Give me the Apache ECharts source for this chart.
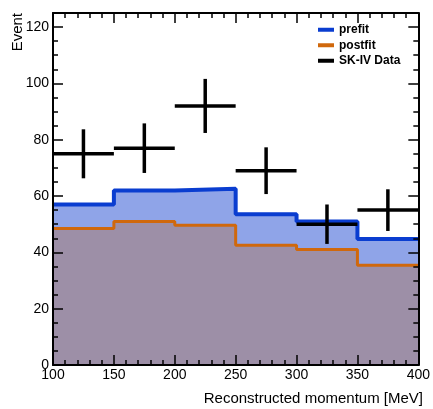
<!DOCTYPE html>
<html>
<head>
<meta charset="utf-8">
<script src="https://cdn.jsdelivr.net/npm/echarts@6/dist/echarts.min.js"></script>
<style>
  html, body { margin: 0; padding: 0; background: #fff; }
  #chart { width: 433px; height: 409px; }
</style>
</head>
<body>
<div id="chart"></div>
<script>
// Bin edges of the reconstructed momentum histogram [MeV]
var binEdges = [100, 150, 200, 250, 300, 350, 400];
// Expected events per bin before and after the fit
var prefit  = [57.0, 62.0, 62.6, 53.5, 51.0, 44.7];
var postfit = [48.5, 51.0, 49.6, 42.5, 41.0, 35.4];
// Observed events and their statistical errors
var dataCounts = [75, 77, 92, 69, 50, 55];
var dataErrors = [8.7, 8.8, 9.6, 8.3, 7.0, 7.4];
// Axis settings
var xTicks = { min: 100, max: 400, step: 50, minorSplit: 5 };
var yTicks = { min: 0, max: 125, step: 20, minorSplit: 4 };

var FONT = '"Liberation Sans", Arial, Helvetica, sans-serif';

// Step outline: each bin value starts at its left edge, last value repeated at the right edge
function histSteps(values) {
  var pts = [];
  for (var i = 0; i < values.length; i++) pts.push([binEdges[i], values[i]]);
  pts.push([binEdges[values.length], values[values.length - 1]]);
  return pts;
}

var dataPoints = dataCounts.map(function (v, i) {
  var lo = binEdges[i], hi = binEdges[i + 1];
  return [(lo + hi) / 2, v, dataErrors[i], (hi - lo) / 2];
});

function tickStyle() { return { color: '#000', width: 1.5 }; }
function frameLine() { return { show: true, onZero: false, lineStyle: { color: '#000', width: 2 } }; }

function xAxisDef(pos, labels) {
  return {
    type: 'value', position: pos, min: xTicks.min, max: xTicks.max, interval: xTicks.step,
    z: 6,
    splitLine: { show: false },
    axisLine: frameLine(),
    axisTick: { show: true, inside: true, length: 10, lineStyle: tickStyle() },
    minorTick: { show: true, splitNumber: xTicks.minorSplit, length: 5, lineStyle: tickStyle() },
    axisLabel: labels ? { show: true, margin: 3, color: '#000', fontSize: 14, fontFamily: FONT } : { show: false }
  };
}

function yAxisDef(pos, labels) {
  return {
    type: 'value', position: pos, min: yTicks.min, max: yTicks.max, interval: yTicks.step,
    z: 6,
    splitLine: { show: false },
    axisLine: frameLine(),
    axisTick: { show: true, inside: true, length: 10, lineStyle: tickStyle() },
    minorTick: { show: true, splitNumber: yTicks.minorSplit, length: 5, lineStyle: tickStyle() },
    axisLabel: labels ? { show: true, margin: 4, color: '#000', fontSize: 14, fontFamily: FONT,
                          showMaxLabel: false } : { show: false }
  };
}

var chart = echarts.init(document.getElementById('chart'), null, { renderer: 'canvas' });

chart.setOption({
  backgroundColor: '#ffffff',
  animation: false,
  textStyle: { fontFamily: FONT },
  grid: { left: 53, right: 10, top: 13, bottom: 44 },
  xAxis: [xAxisDef('bottom', true), xAxisDef('top', false)],
  yAxis: [yAxisDef('left', true), yAxisDef('right', false)],
  legend: {
    orient: 'vertical', left: 318, top: 23, padding: 0,
    itemWidth: 16, itemHeight: 4, itemGap: 2,
    icon: 'rect',
    textStyle: { fontSize: 12, fontWeight: 'bold', color: '#000', fontFamily: FONT, lineHeight: 13.5 },
    data: ['prefit', 'postfit', 'SK-IV Data']
  },
  series: [
    {
      name: 'prefit', type: 'line', step: 'end', showSymbol: false, symbol: 'none',
      data: histSteps(prefit), z: 1,
      itemStyle: { color: '#0a3dd0' },
      lineStyle: { color: '#0a3dd0', width: 4 },
      areaStyle: { color: '#8fa4e8', opacity: 1 }
    },
    {
      name: 'postfit', type: 'line', step: 'end', showSymbol: false, symbol: 'none',
      data: histSteps(postfit), z: 2,
      itemStyle: { color: '#d0680c' },
      lineStyle: { color: '#d0680c', width: 3 },
      areaStyle: { color: '#9d8fa7', opacity: 1 }
    },
    {
      name: 'SK-IV Data', type: 'custom', z: 5,
      itemStyle: { color: '#000' },
      data: dataPoints,
      renderItem: function (params, api) {
        var x = api.value(0), y = api.value(1), e = api.value(2), hw = api.value(3);
        var l = api.coord([x - hw, y]), r = api.coord([x + hw, y]);
        var t = api.coord([x, y + e]), b = api.coord([x, y - e]);
        var st = { stroke: '#000', lineWidth: 3.5 };
        return {
          type: 'group',
          children: [
            { type: 'line', shape: { x1: l[0], y1: l[1], x2: r[0], y2: r[1] }, style: st },
            { type: 'line', shape: { x1: t[0], y1: t[1], x2: b[0], y2: b[1] }, style: st }
          ]
        };
      }
    }
  ],
  graphic: [
    {
      type: 'text', x: 18, y: 13, rotation: Math.PI / 2, z: 20,
      style: { text: 'Event', fontSize: 15, fontFamily: FONT, fill: '#000',
               align: 'right', verticalAlign: 'middle' }
    },
    {
      type: 'text', x: 423, y: 399, z: 20,
      style: { text: 'Reconstructed momentum [MeV]', fontSize: 15, fontFamily: FONT, fill: '#000',
               align: 'right', verticalAlign: 'middle' }
    }
  ]
});
</script>
</body>
</html>
